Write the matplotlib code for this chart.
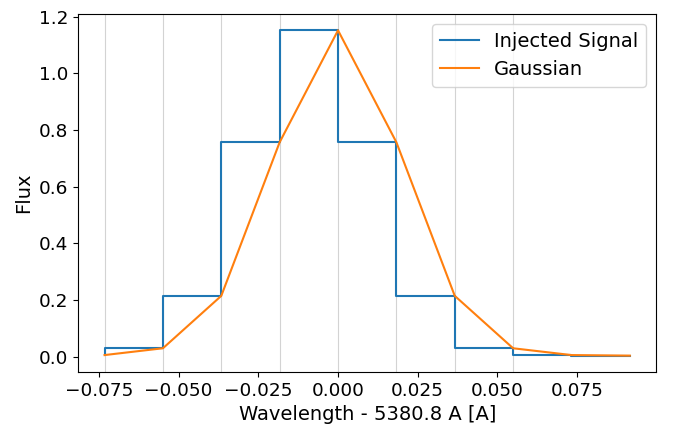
import numpy as np
import matplotlib.pyplot as plt

# offsets from line centre [A] and flux values
wavelength = [-0.0732, -0.0549, -0.0366, -0.0183, 0.0, 0.0183, 0.0366, 0.0549, 0.0732, 0.0915]
flux = [0.006, 0.030, 0.215, 0.757, 1.152, 0.757, 0.215, 0.030, 0.006, 0.004]
grid_positions = wavelength[:8]


def main() -> None:
    plt.rcParams['font.size'] = 14
    plt.rcParams['xtick.labelsize'] = 13.3
    plt.rcParams['ytick.labelsize'] = 13.3
    fig, ax = plt.subplots(figsize=(6.75, 4.26), dpi=100)
    fig.subplots_adjust(left=0.116, right=0.972, top=0.967, bottom=0.127)

    for xv in grid_positions:
        ax.axvline(xv, color='lightgrey', linewidth=0.8, zorder=0)

    ax.step(wavelength, flux, where='pre', label='Injected Signal')
    ax.plot(wavelength, flux, label='Gaussian')

    ax.set_xlabel('Wavelength - 5380.8 A [A]')
    ax.set_ylabel('Flux')
    ax.legend(loc='upper right')
    fig.savefig('out.png')


if __name__ == '__main__':
    main()
